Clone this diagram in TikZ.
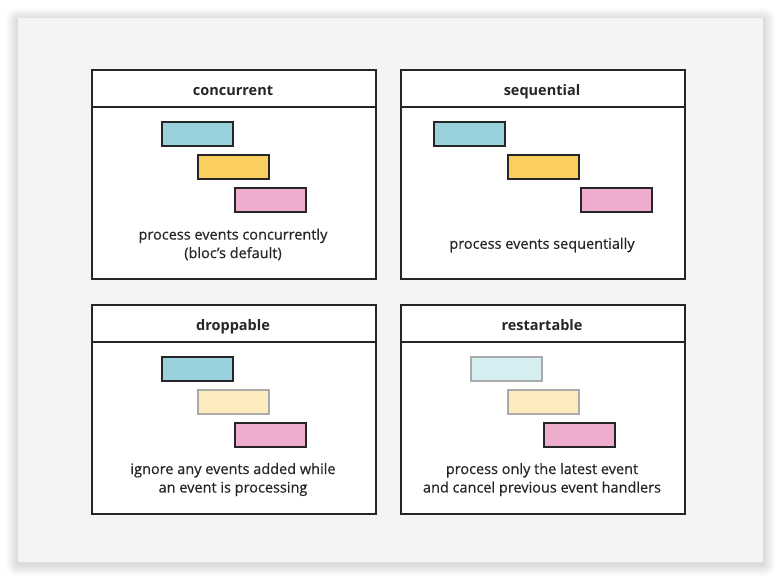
\documentclass[tikz,border=0pt]{standalone}
\usepackage{fontspec}
\setmainfont{Open Sans}
\newfontfamily\captionfont{Open Sans}[FakeBold=0.5]
\usepackage{tikz}
\definecolor{cardgray}{HTML}{F4F4F4}
\definecolor{inkdark}{HTML}{262626}
\definecolor{eventblue}{HTML}{99D2DC}
\definecolor{eventyellow}{HTML}{FBCF5F}
\definecolor{eventpink}{HTML}{EEADCF}
\definecolor{fadedblue}{HTML}{D5EEF2}
\definecolor{fadedyellow}{HTML}{FBEBBD}
\definecolor{fadedline}{HTML}{AAAAAA}

\begin{document}
\begin{tikzpicture}[x=1pt,y=-1pt,font=\fontsize{14.5}{18.5}\selectfont,
  panel/.style={draw=inkdark,line width=1.8pt,fill=white,minimum width=284,minimum height=209,inner sep=0pt},
  header/.style={draw=inkdark,line width=1.8pt},
  title/.style={text=inkdark,anchor=base,font=\fontsize{14.5}{18.5}\selectfont\bfseries},
  caption/.style={text=inkdark,align=center,font=\fontsize{14.5}{18.5}\captionfont},
  bar/.style={draw=inkdark,line width=1.6pt,minimum width=71,minimum height=24,inner sep=0pt,anchor=north west},
  faded/.style={draw=fadedline}]
  \useasboundingbox (0,0) rectangle (781,580);
  \fill[white] (0,0) rectangle (781,580);
  % soft shadow of the card
  \foreach \spread in {1,...,12}
    \fill[black,opacity=0.012,rounded corners=\spread] (18-\spread,20-\spread) rectangle (763+\spread,564+\spread);
  \fill[cardgray] (18,18) rectangle (763,562);
  % concurrent
  \begin{scope}[shift={(91,69)}]
    \node[panel,anchor=north west] (concurrent) at (0,0) {};
    \draw[header] (concurrent.north west) ++(0,38) coordinate (concurrent sep) -- ++(284,0);
    \node[title] (concurrent title) at (142,26.5) {concurrent};
    \node[bar,fill=eventblue] (concurrent first) at (70,52) {};
    \node[bar,fill=eventyellow] (concurrent second) at (106,85) {};
    \node[bar,fill=eventpink] (concurrent third) at (143,118) {};
    \node[caption] (concurrent text) at (142,175.5) {process events concurrently\\(bloc’s default)};
  \end{scope}
  % sequential
  \begin{scope}[shift={(400,69)}]
    \node[panel,anchor=north west] (sequential) at (0,0) {};
    \draw[header] (sequential.north west) ++(0,38) coordinate (sequential sep) -- ++(284,0);
    \node[title] (sequential title) at (142,26.5) {sequential};
    \node[bar,fill=eventblue] (sequential first) at (33,52) {};
    \node[bar,fill=eventyellow] (sequential second) at (107,85) {};
    \node[bar,fill=eventpink] (sequential third) at (180,118) {};
    \node[caption] (sequential text) at (142,176) {process events sequentially};
  \end{scope}
  % droppable
  \begin{scope}[shift={(91,304)}]
    \node[panel,anchor=north west] (droppable) at (0,0) {};
    \draw[header] (droppable.north west) ++(0,38) coordinate (droppable sep) -- ++(284,0);
    \node[title] (droppable title) at (142,26.5) {droppable};
    \node[bar,fill=eventblue] (droppable first) at (70,52) {};
    \node[bar,faded,fill=fadedyellow] (droppable second) at (106,85) {};
    \node[bar,fill=eventpink] (droppable third) at (143,118) {};
    \node[caption] (droppable text) at (142,175.5) {ignore any events added while\\an event is processing};
  \end{scope}
  % restartable
  \begin{scope}[shift={(400,304)}]
    \node[panel,anchor=north west] (restartable) at (0,0) {};
    \draw[header] (restartable.north west) ++(0,38) coordinate (restartable sep) -- ++(284,0);
    \node[title] (restartable title) at (142,26.5) {restartable};
    \node[bar,faded,fill=fadedblue] (restartable first) at (70,52) {};
    \node[bar,faded,fill=fadedyellow] (restartable second) at (107,85) {};
    \node[bar,fill=eventpink] (restartable third) at (143,118) {};
    \node[caption] (restartable text) at (142,175.5) {process only the latest event\\and cancel previous event handlers};
  \end{scope}
\end{tikzpicture}
\end{document}
